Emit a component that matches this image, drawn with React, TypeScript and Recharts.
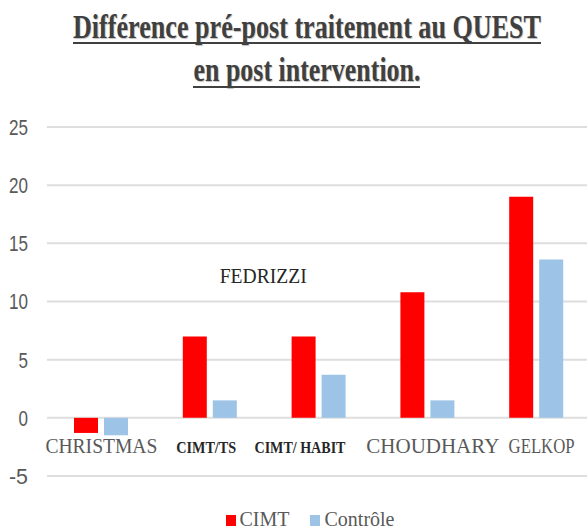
import React from 'react';
import { BarChart, Bar, XAxis, YAxis, CartesianGrid, Legend, ReferenceDot } from 'recharts';

const categories = ['CHRISTMAS', 'CIMT/TS', 'CIMT/ HABIT', 'CHOUDHARY', 'GELKOP'];
const cimtValues = [-1.3, 7, 7, 10.8, 19];
const controleValues = [-1.5, 1.5, 3.7, 1.5, 13.6];
const yTicks = [-5, 0, 5, 10, 15, 20, 25];
const annotation = { text: 'FEDRIZZI', near: 'CIMT/TS', value: 12.2 };

const data = categories.map((name, i) => ({ name, cimt: cimtValues[i], controle: controleValues[i] }));

const RED = '#ff0000';
const BLUE = '#9dc3e6';
const SERIF = '"Liberation Serif", "Times New Roman", serif';

// the source labels are not all in the same font, so each gets its own look
const tickLook: Record<string, { size: number; weight: number; color: string; dx: number; len: number }> = {
  'CHRISTMAS': { size: 20, weight: 400, color: '#595959', dx: 0, len: 112 },
  'CIMT/TS': { size: 16, weight: 700, color: '#262626', dx: -4, len: 60 },
  'CIMT/ HABIT': { size: 16, weight: 700, color: '#262626', dx: -19, len: 91 },
  'CHOUDHARY': { size: 20, weight: 400, color: '#595959', dx: 5, len: 133 },
  'GELKOP': { size: 20, weight: 400, color: '#595959', dx: 5, len: 66 },
};

const CategoryTick = (props: any) => {
  const { x, y, payload } = props;
  const look = tickLook[payload.value];
  return (
    <text
      x={x + look.dx}
      y={y - 23}
      textAnchor="middle"
      fontFamily={SERIF}
      fontSize={look.size}
      fontWeight={look.weight}
      fill={look.color}
      textLength={look.len}
      lengthAdjust="spacingAndGlyphs"
    >
      {payload.value}
    </text>
  );
};

// narrow digits like the Calibri ones in the source
const ValueTick = (props: any) => {
  const { x, y, payload } = props;
  const label = String(payload.value);
  return (
    <text
      x={x}
      y={y}
      dy="0.36em"
      textAnchor="end"
      fontFamily='"Liberation Sans", Arial, sans-serif'
      fontSize={22}
      fill="#595959"
      textLength={label.length * 9.5}
      lengthAdjust="spacingAndGlyphs"
    >
      {label}
    </text>
  );
};

const LegendBox = () => (
  <div
    style={{
      height: 26,
      display: 'flex',
      justifyContent: 'center',
      alignItems: 'center',
      paddingLeft: 33,
      fontFamily: SERIF,
      fontSize: 20,
      color: '#595959',
      lineHeight: '26px',
    }}
  >
    <span style={{ width: 10, height: 12, background: RED, marginRight: 4, marginTop: 4 }} />
    <span style={{ marginRight: 20 }}>CIMT</span>
    <span style={{ width: 10, height: 12, background: BLUE, marginRight: 5, marginTop: 4 }} />
    <span>Contrôle</span>
  </div>
);

export default function App() {
  return (
    <div style={{ position: 'absolute', left: 0, top: 0, width: 587, height: 526, background: '#fff', overflow: 'hidden' }}>
      <svg width={587} height={110} style={{ position: 'absolute', left: 0, top: 0, zIndex: 2 }}>
        <g fontFamily={SERIF} fontWeight={700} fontSize={34} fill="#404040" style={{ textShadow: '1px 1px 1px rgba(0,0,0,0.25)' }}>
          <text x={307} y={38} textAnchor="middle" textLength={468} lengthAdjust="spacingAndGlyphs">
            Différence pré-post traitement au QUEST
          </text>
          <text x={307} y={81} textAnchor="middle" textLength={227} lengthAdjust="spacingAndGlyphs">
            en post intervention.
          </text>
        </g>
        <line x1={73} x2={541} y1={43} y2={43} stroke="#404040" strokeWidth={2} />
        <line x1={193} x2={420} y1={87} y2={87} stroke="#404040" strokeWidth={2} />
      </svg>
      <BarChart
        width={587}
        height={526}
        data={data}
        margin={{ top: 127, right: -4, left: 0, bottom: 23 }}
        barSize={24}
        barGap={6}
      >
        <CartesianGrid vertical={false} stroke="#dedede" strokeWidth={2} />
        <XAxis
          dataKey="name"
          height={1}
          axisLine={false}
          tickLine={false}
          tickSize={0}
          tickMargin={0}
          interval={0}
          tick={<CategoryTick />}
        />
        <YAxis
          width={47}
          domain={[-5, 25]}
          ticks={yTicks}
          axisLine={false}
          tickLine={false}
          tickSize={0}
          tickMargin={19}
          tick={<ValueTick />}
        />
        <Bar dataKey="cimt" name="CIMT" fill={RED} isAnimationActive={false} />
        <Bar dataKey="controle" name="Contrôle" fill={BLUE} isAnimationActive={false} />
        <ReferenceDot
          x={annotation.near}
          y={annotation.value}
          r={0}
          fill="none"
          stroke="none"
          label={(p: any) => (
            <text
              x={p.viewBox.x + 53}
              y={p.viewBox.y}
              dy="0.35em"
              textAnchor="middle"
              fontFamily={SERIF}
              fontSize={20}
              fill="#262626"
              textLength={87}
              lengthAdjust="spacingAndGlyphs"
            >
              {annotation.text}
            </text>
          )}
        />
        <Legend content={<LegendBox />} wrapperStyle={{ top: 506, bottom: 'auto', left: 0, width: 587 }} />
      </BarChart>
    </div>
  );
}
